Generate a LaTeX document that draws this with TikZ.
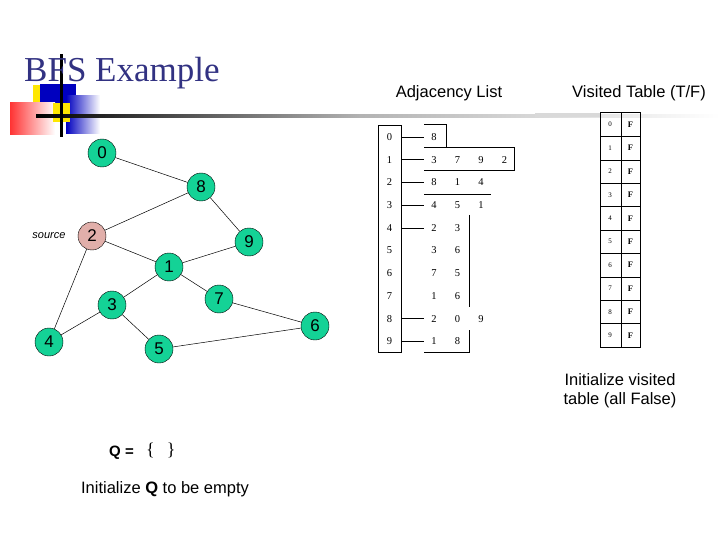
\documentclass[tikz,border=0pt]{standalone}
\usepackage{fontspec}
\setmainfont{Liberation Sans}
\newfontfamily\serif{Liberation Serif}
\usetikzlibrary{shadings}
\definecolor{nodegreen}{RGB}{20,210,150}
\definecolor{srcpink}{RGB}{225,175,170}
\definecolor{titleblue}{RGB}{50,50,130}
\tikzset{
 v/.style={circle,draw=black,fill=nodegreen,minimum size=28pt,inner sep=0pt,font=\fontsize{17}{17}\selectfont},
 e/.style={draw=black,line width=0.5pt},
 lbl/.style={font=\fontsize{16.5}{19}\selectfont,align=center},
 adj/.style={font=\serif\fontsize{10.5}{12}\selectfont,inner sep=0pt},
 vt/.style={font=\serif\fontsize{7}{8}\selectfont,inner sep=0pt},
}
\begin{document}
\begin{tikzpicture}[x=1pt,y=-1pt]
\useasboundingbox (0,0) rectangle (720,540);
% decoration
\fill[yellow!90!orange] (33,85) rectangle (52,115);
\fill[blue!75!black] (40,84) rectangle (76,112);
\shade[left color=blue!75!black,right color=white] (66,96) rectangle (100,134);
\shade[left color=red!80,right color=white] (10,103) rectangle (55,135);
\fill[yellow!90!orange] (53,103) rectangle (70,122);
\shade[left color=black,right color=black!30] (36,114.5) rectangle (360,117.5);
\shade[left color=black!30,right color=white] (360,114.5) rectangle (720,117.5);
\fill[black] (60,54) rectangle (62.5,137);
\node[font=\serif\fontsize{35}{35}\selectfont,text=titleblue,anchor=west,inner sep=0pt] (title) at (24,73) {BFS Example};
% graph
\node[v] (n0) at (102,153) {0};
\node[v] (n8) at (201,187) {8};
\node[v,fill=srcpink] (n2) at (92,236) {2};
\node[v] (n9) at (249,242) {9};
\node[v] (n1) at (169,267) {1};
\node[v] (n3) at (112,305) {3};
\node[v] (n7) at (219,299) {7};
\node[v] (n4) at (49,342) {4};
\node[v] (n5) at (159,349) {5};
\node[v] (n6) at (315,326) {6};
\node[font=\itshape\fontsize{11}{12}\selectfont] (src) at (49,236) {source};
\foreach \a/\b in {n0/n8,n8/n2,n8/n9,n2/n1,n2/n4,n1/n9,n1/n3,n1/n7,n3/n4,n3/n5,n7/n6,n5/n6}
 \draw[e] (\a) -- (\b);
% adjacency list
\draw (378,125) rectangle (401,352);
\foreach \i in {0,...,9} \node[adj] (r\i) at (389.5,{137+22.7*\i}) {\i};
\foreach \i in {0,1,2,3,4,8,9} \draw (401,{137+22.7*\i}) -- (424,{137+22.7*\i});
\foreach \i/\l in {0/{8},1/{3,7,9,2},2/{8,1,4},3/{4,5,1},4/{2,3},5/{3,6},6/{7,5},7/{1,6},8/{2,0,9},9/{1,8}}{
 \foreach \v [count=\k] in \l \node[adj] at ({434+23.5*(\k-1)},{137+22.7*\i}) {\v};
}
\draw (424,124) -- (446,124) -- (446,147);
\draw (424,147) -- (514,147) -- (514,170) -- (424,170);
\draw (424,194) -- (491,194);
\draw (469,215) -- (469,307);
\draw (469,330) -- (469,352) -- (424,352);
% visited table
\fill[black!15] (535,113.5) rectangle (600,117);
\draw[line width=1pt] (600,113) rectangle (640,347);
\draw (621,113) -- (621,347);
\foreach \i in {0,...,9}{
 \node[vt] at (610,{124.7+23.4*\i}) {\i};
 \node[vt,font=\serif\bfseries\fontsize{8.5}{9}\selectfont] at (630.5,{124.7+23.4*\i}) {F};
 \ifnum\i>0 \draw (600,{113+23.4*\i}) -- (640,{113+23.4*\i}); \fi
}
% labels
\node[lbl] (la) at (449,93) {Adjacency List};
\node[lbl] (lv) at (639,93) {Visited Table (T/F)};
\node[lbl,align=center] (li) at (620,391) {Initialize visited\\table (all False)};
\node[anchor=west,inner sep=0pt,font=\bfseries\fontsize{15}{15}\selectfont] (q) at (109,453) {Q =};
\node[anchor=west,inner sep=0pt,font=\serif\fontsize{18}{18}\selectfont] (br) at (146,450) {\{\hspace{12pt}\}};
\node[lbl] (lq) at (165,489) {Initialize \textbf{Q} to be empty};
\end{tikzpicture}
\end{document}
